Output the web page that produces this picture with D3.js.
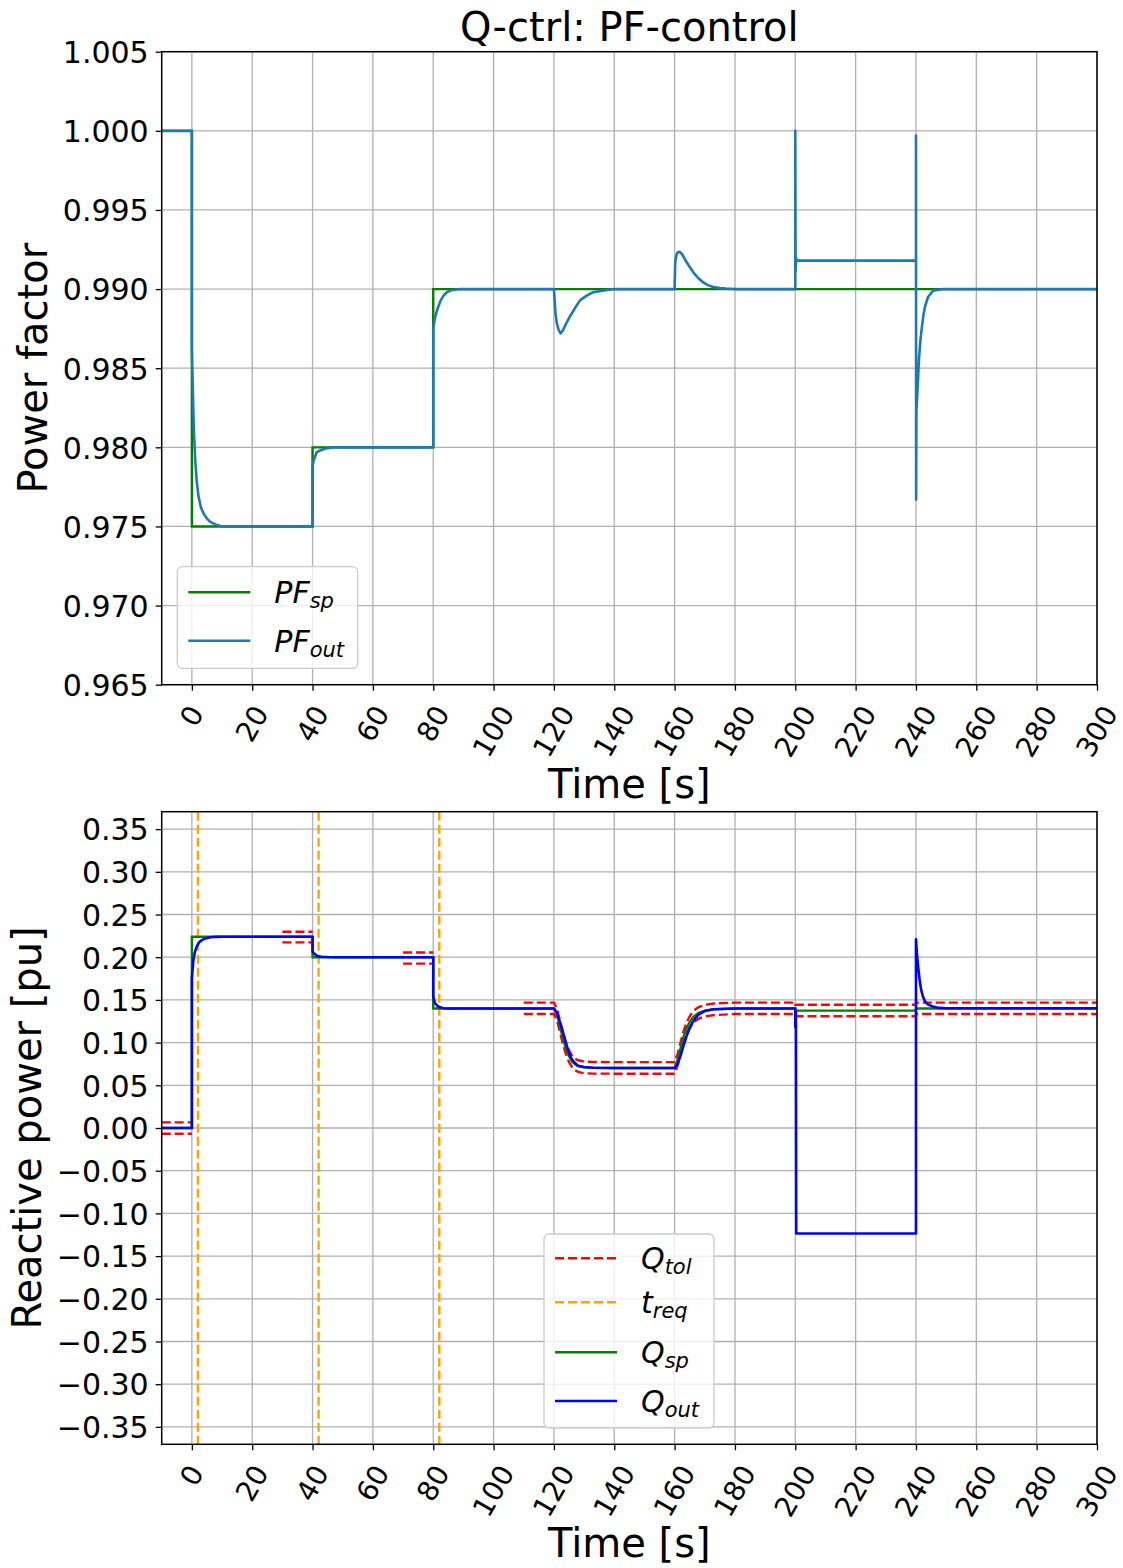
<!DOCTYPE html>
<html><head><meta charset="utf-8">
<script src="https://cdn.jsdelivr.net/npm/d3@7"></script>
<style>body{margin:0;background:#fff} text{font-family:"DejaVu Sans",sans-serif;fill:#000}</style>
</head><body><svg id="c" width="1123" height="1568"></svg>
<script>
// ---------- DATA ----------
const xTicks = [0,20,40,60,80,100,120,140,160,180,200,220,240,260,280,300];
const pfTicks = [1.005,1.000,0.995,0.990,0.985,0.980,0.975,0.970,0.965];
const qTicks = [0.35,0.30,0.25,0.20,0.15,0.10,0.05,0.00,-0.05,-0.10,-0.15,-0.20,-0.25,-0.30,-0.35];

const pfSp = [[-10,1.000],[0,1.000],[0,0.975],[40,0.975],[40,0.980],[80,0.980],[80,0.990],[300,0.990]];
const pfOut = [[-10,1.000],[0,1.000],[0,0.9862],[0.3,0.9838],[0.6,0.9814],[1.1,0.9792],[1.6,0.9779],[2.2,0.9769],[3,0.9762],[3.9,0.9758],[5,0.9755],[6,0.9753],[8,0.9751],[10,0.9750],
  [40,0.9750],[40,0.9788],[40.4,0.9792],[41.4,0.9797],[42.5,0.9798],[43.6,0.97988],[45,0.97995],[47,0.9800],
  [80,0.9800],[80,0.9875],[80.5,0.9881],[81,0.9885],[81.7,0.9889],[82.5,0.9893],[83.5,0.9896],[84.5,0.9898],[86,0.98993],[89,0.9900],
  [120,0.9900],[120.5,0.9885],[121,0.9878],[121.6,0.9874],[122.2,0.9872],[123,0.9874],[124,0.9878],[125.4,0.9883],[127,0.9888],[128.7,0.9893],[131,0.9896],[133,0.9898],[136,0.9899],[140,0.9900],
  [160,0.9900],[160.2,0.9917],[160.6,0.99215],[161,0.99232],[161.6,0.99236],[162.5,0.9922],[164,0.99169],[165,0.9914],[166.2,0.99106],[167.8,0.9907],[169.5,0.99042],[171,0.99025],[172.8,0.99013],[175,0.99006],[177,0.99003],[180,0.9900],
  [200,0.9900],[200,1.0000],[200.1,0.9911],[200.2,0.9920],[200.5,0.9918],
  [240,0.9918],[240,0.9997],[240.05,0.9767],[240.15,0.9823],[240.5,0.9836],[241,0.9856],[241.5,0.9868],[241.9,0.9875],[242.5,0.9884],[243,0.9889],[244,0.9895],[245.7,0.9899],[249,0.9900],[300,0.9900]];

const qSp = [[-10,0],[0,0],[0,0.224],[40,0.224],[40,0.200],[80,0.200],[80,0.140],[120,0.140],[121,0.133],[122,0.119],[123,0.105],[124,0.093],[125,0.084],[126,0.078],[127,0.0745],[128,0.0725],[130,0.071],[133,0.0705],[140,0.0703],
  [160,0.0703],[161,0.080],[162,0.094],[163,0.107],[164,0.117],[165,0.124],[166,0.129],[167,0.1325],[168,0.1348],[170,0.1375],[173,0.139],[180,0.140],
  [200,0.140],[200,0.1374],[240,0.1374],[240,0.140],[300,0.140]];

const qOut = [[-10,0],[0,0],[0,0.1753],[0.5,0.1967],[1,0.206],[1.6,0.2123],[2.4,0.2175],[3.3,0.220],[4.5,0.222],[6.1,0.2233],[8,0.2238],[10,0.224],
  [40,0.224],[40,0.2064],[40.7,0.2037],[41.6,0.2014],[43,0.2006],[45,0.2002],[47,0.200],
  [80,0.200],[80,0.1537],[80.6,0.146],[81.7,0.1421],[83.3,0.1402],[86,0.140],
  [120,0.140],[121,0.135],[122,0.124],[123,0.112],[124,0.099],[125,0.088],[126,0.080],[127,0.076],[128,0.073],[130,0.0715],[133,0.0705],[140,0.0703],
  [160,0.0703],[161,0.075],[162,0.085],[163,0.097],[164,0.108],[165,0.117],[166,0.124],[167,0.129],[168,0.133],[170,0.137],[173,0.139],[180,0.140],
  [200,0.140],[200,0.118],[200.2,0.136],[200.3,-0.1235],[240,-0.1235],[240,0.2211],[240.3,0.205],[240.7,0.1891],[241.2,0.174],[241.7,0.162],[242.3,0.154],[243,0.1482],[244,0.1445],[245.5,0.1424],[247,0.141],[250,0.1403],[300,0.1403]];

const qTolUpper = [
  [[-10,0.0066],[0,0.0066]],
  [[30,0.2299],[40,0.2299]],
  [[70,0.2055],[80,0.2055]],
  [[110,0.1468],[120,0.1468],[121,0.1398],[122,0.1258],[123,0.1118],[124,0.0998],[125,0.0908],[126,0.0848],[127,0.0813],[128,0.0793],[130,0.0778],[133,0.0773],[140,0.0771],
   [160,0.0771],[161,0.0868],[162,0.1008],[163,0.1138],[164,0.1238],[165,0.1308],[166,0.1358],[167,0.1393],[168,0.1416],[170,0.1443],[173,0.1458],[180,0.1468],
   [200,0.1468],[200,0.1444],[240,0.1444],[240,0.1468],[300,0.1468]]
];
const qTolLower = [
  [[-10,-0.0068],[0,-0.0068]],
  [[30,0.2174],[40,0.2174]],
  [[70,0.1925],[80,0.1925]],
  [[110,0.1335],[120,0.1335],[121,0.1262],[122,0.1122],[123,0.0982],[124,0.0862],[125,0.0772],[126,0.0712],[127,0.0677],[128,0.0657],[130,0.0642],[133,0.0637],[140,0.0636],
   [160,0.0636],[161,0.0732],[162,0.0872],[163,0.1002],[164,0.1102],[165,0.1172],[166,0.1222],[167,0.1257],[168,0.1280],[170,0.1307],[173,0.1322],[180,0.1335],
   [200,0.1335],[200,0.1308],[240,0.1308],[240,0.1335],[300,0.1335]]
];
const tReq = [2,42,82];

// ---------- DRAW ----------
const svg = d3.select('#c');
const X0 = 161.7, X1 = 1097;
let clipId = 0;

function panel(top, bottom, yDomain, yTicks, fmt, ylabel, ylabelX) {
  const x = d3.scaleLinear().domain([-10,300]).range([X0,X1]);
  const y = d3.scaleLinear().domain(yDomain).range([bottom,top]);
  const g = svg.append('g');
  g.append('g').selectAll('line').data(xTicks).join('line')
    .attr('x1',d=>x(d)).attr('x2',d=>x(d)).attr('y1',top).attr('y2',bottom)
    .attr('stroke','#b0b0b0').attr('stroke-width',1.3);
  g.append('g').selectAll('line').data(yTicks).join('line')
    .attr('x1',X0).attr('x2',X1).attr('y1',d=>y(d)).attr('y2',d=>y(d))
    .attr('stroke','#b0b0b0').attr('stroke-width',1.3);
  const id = 'clip'+(clipId++);
  svg.append('clipPath').attr('id',id).append('rect')
    .attr('x',X0).attr('y',top).attr('width',X1-X0).attr('height',bottom-top);
  const plot = g.append('g').attr('clip-path',`url(#${id})`);
  const ya = g.append('g').attr('transform',`translate(${X0},0)`)
    .call(d3.axisLeft(y).tickValues(yTicks).tickFormat(fmt).tickSize(6).tickPadding(7).tickSizeOuter(0));
  ya.select('.domain').remove();
  ya.selectAll('line').attr('stroke','#000').attr('stroke-width',1.3);
  ya.selectAll('text').attr('font-size',30).attr('font-family','DejaVu Sans').attr('fill','#000').attr('dy','0.36em');
  const xa = g.append('g').attr('transform',`translate(0,${bottom})`)
    .call(d3.axisBottom(x).tickValues(xTicks).tickFormat(d3.format('d')).tickSize(6).tickSizeOuter(0));
  xa.select('.domain').remove();
  xa.selectAll('line').attr('stroke','#000').attr('stroke-width',1.3);
  const fsx = 28;
  xa.selectAll('text').attr('font-size',fsx).attr('font-family','DejaVu Sans').attr('fill','#000')
    .attr('y',null).attr('dy','0.36em').attr('text-anchor','middle')
    .each(function(){
      const w = this.getComputedTextLength() - 0.15*fsx;
      const Hh = 0.866*w + 0.5*0.73*fsx;
      const cy = 20 + Hh/2;
      d3.select(this).attr('transform',`translate(-1,${cy}) rotate(-60)`);
    });
  g.append('rect').attr('x',X0).attr('y',top).attr('width',X1-X0).attr('height',bottom-top)
    .attr('fill','none').attr('stroke','#000').attr('stroke-width',1.5);
  g.append('text').attr('x',(X0+X1)/2).attr('y',bottom+113).attr('text-anchor','middle')
    .attr('font-size',40).text('Time [s]');
  g.append('text').attr('transform',`translate(${ylabelX},${(top+bottom)/2}) rotate(-90)`)
    .attr('text-anchor','middle').attr('font-size',40).text(ylabel);
  return {x,y,g,plot};
}

function legend(g, bx, by, bw, bh, items) {
  const lg = g.append('g');
  lg.append('rect').attr('x',bx).attr('y',by).attr('width',bw).attr('height',bh).attr('rx',5)
    .attr('fill','#fff').attr('fill-opacity',0.8).attr('stroke','#cccccc').attr('stroke-width',1.3);
  items.forEach(it=>{
    lg.append('line').attr('x1',bx+11).attr('x2',bx+73).attr('y1',it.y).attr('y2',it.y)
      .attr('stroke',it.color).attr('stroke-width',2.6).attr('stroke-dasharray',it.dash||null);
    const t = lg.append('text').attr('x',bx+97).attr('y',it.y+11).attr('font-size',30).attr('font-style','italic');
    t.append('tspan').text(it.main);
    t.append('tspan').attr('font-size',21).attr('dy',5).text(it.sub);
  });
}

// Top panel
const P1 = panel(51.7, 684.7, [0.965,1.005], pfTicks, d3.format('.3f'), 'Power factor', 47);
const line1 = d3.line().x(d=>P1.x(d[0])).y(d=>P1.y(d[1]));
P1.plot.append('path').attr('d',line1(pfSp)).attr('fill','none').attr('stroke','#008000').attr('stroke-width',2.4);
P1.plot.append('path').attr('d',line1(pfOut)).attr('fill','none').attr('stroke','#1f77b4').attr('stroke-width',2.6).attr('stroke-linejoin','round');
svg.append('text').attr('x',(X0+X1)/2).attr('y',41).attr('text-anchor','middle').attr('font-size',40).text('Q-ctrl: PF-control');
legend(P1.g, 177.3, 566.7, 180.4, 101.6, [
  {y:592.3,color:'#008000',main:'PF',sub:'sp'},
  {y:640.7,color:'#1f77b4',main:'PF',sub:'out'}
]);

// Bottom panel
const P2 = panel(811.7, 1444.3, [-0.3704,0.3704], qTicks, d3.format('.2f'), 'Reactive power [pu]', 41);
const line2 = d3.line().x(d=>P2.x(d[0])).y(d=>P2.y(d[1]));
qTolUpper.concat(qTolLower).forEach(seg=>{
  P2.plot.append('path').attr('d',line2(seg)).attr('fill','none').attr('stroke','#ff0000')
    .attr('stroke-width',2.4).attr('stroke-dasharray','9,4');
});
P2.plot.selectAll('.treq').data(tReq).join('line').attr('class','treq')
  .attr('x1',d=>P2.x(d)).attr('x2',d=>P2.x(d)).attr('y1',811.7).attr('y2',1444.3)
  .attr('stroke','#ffa500').attr('stroke-width',2.4).attr('stroke-dasharray','9,4');
P2.plot.append('path').attr('d',line2(qSp)).attr('fill','none').attr('stroke','#008000').attr('stroke-width',2.4);
P2.plot.append('path').attr('d',line2(qOut)).attr('fill','none').attr('stroke','#0000ff').attr('stroke-width',2.6).attr('stroke-linejoin','round');
legend(P2.g, 544, 1234, 170, 194, [
  {y:1258.3,color:'#ff0000',main:'Q',sub:'tol',dash:'9,4'},
  {y:1302.3,color:'#ffa500',main:'t',sub:'req',dash:'9,4'},
  {y:1352.3,color:'#008000',main:'Q',sub:'sp'},
  {y:1401,color:'#0000ff',main:'Q',sub:'out'}
]);
</script></body></html>
